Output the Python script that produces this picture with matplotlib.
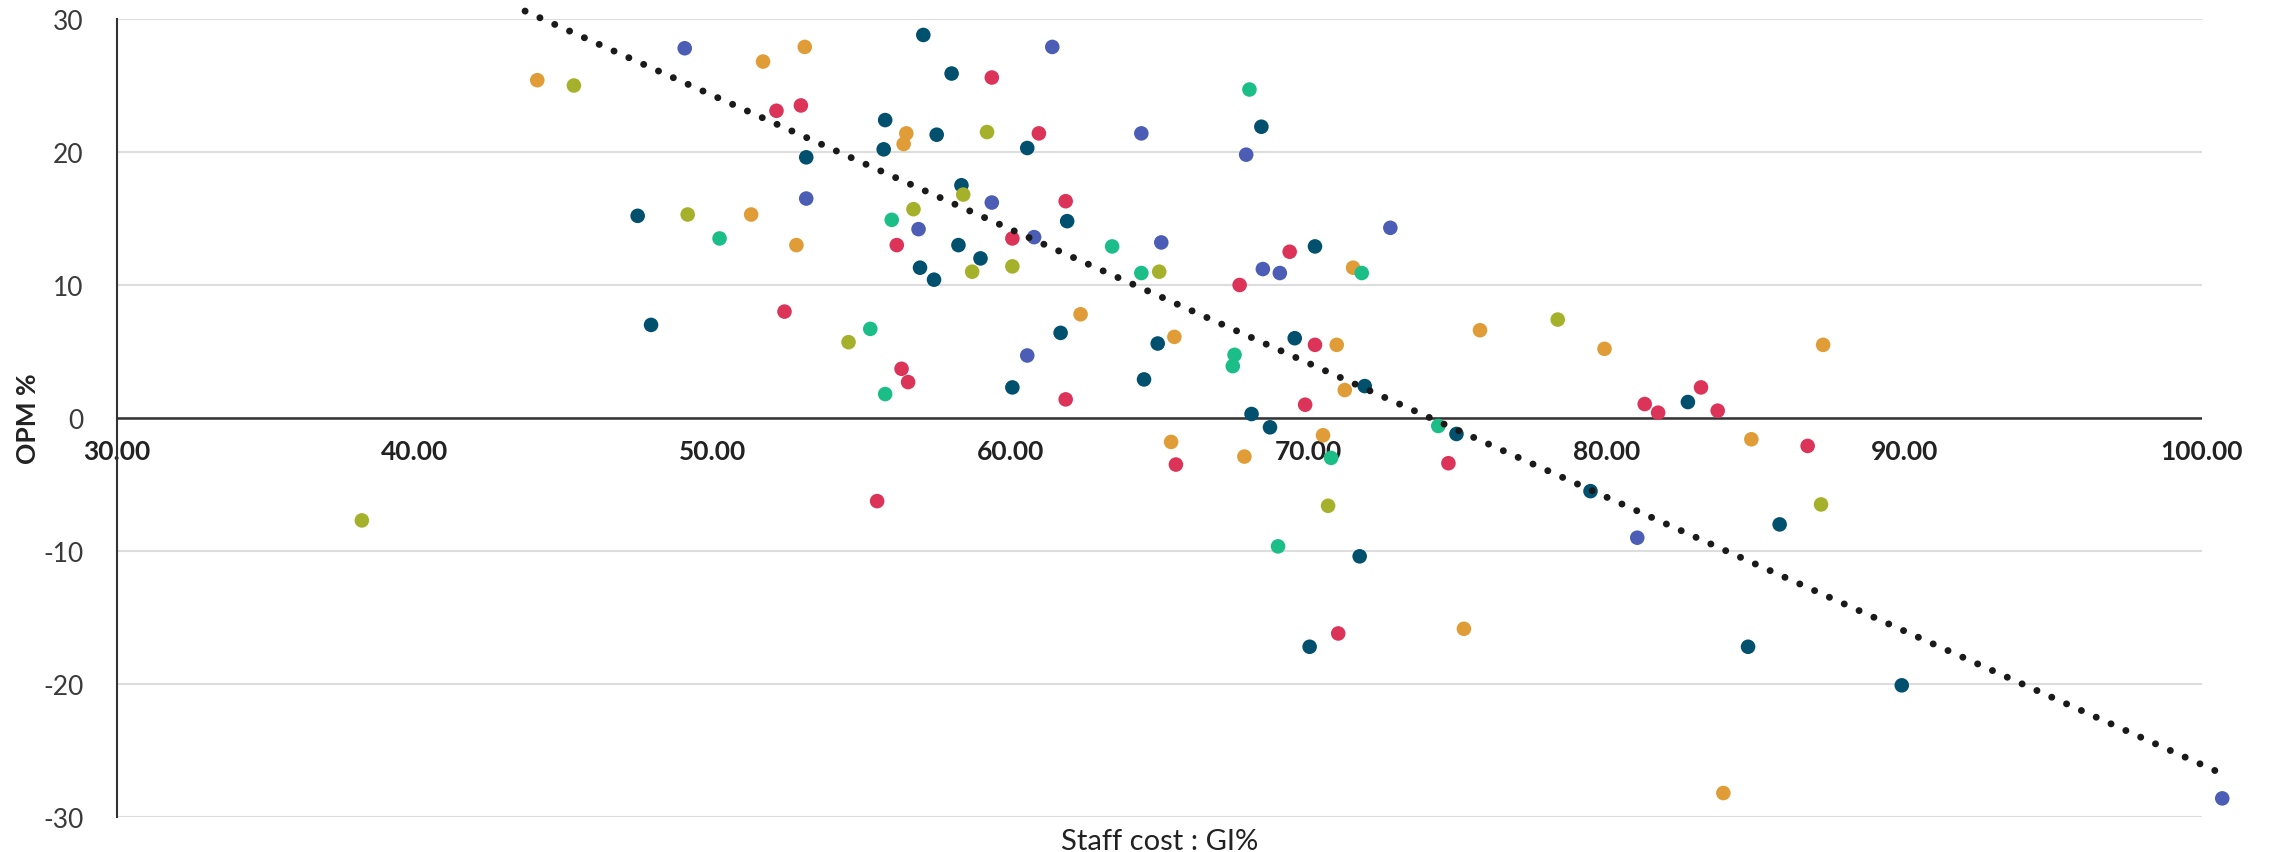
import matplotlib.pyplot as plt
import numpy as np

plt.rcParams["axes.unicode_minus"] = False

# Staff cost : GI% (x) vs OPM % (y), grouped by colour
teal_x = [57.07, 58.02, 55.79, 57.52, 55.74, 60.56, 53.14, 47.48, 58.35, 61.90, 58.25, 58.99,
          56.96, 57.43, 47.93, 61.68, 60.06, 64.48, 68.42, 70.22, 64.94, 69.54, 71.89, 68.09,
          68.71, 74.97, 82.74, 71.72, 70.04, 79.47, 85.82, 84.76, 89.92]
teal_y = [28.8, 25.9, 22.4, 21.3, 20.2, 20.3, 19.6, 15.2, 17.5, 14.8, 13.0, 12.0,
          11.3, 10.4, 7.0, 6.4, 2.3, 2.9, 21.9, 12.9, 5.6, 6.0, 2.4, 0.3,
          -0.7, -1.2, 1.2, -10.4, -17.2, -5.5, -8.0, -17.2, -20.1]

blue_x = [49.06, 61.40, 64.39, 53.14, 59.37, 56.91, 60.79, 60.56, 65.06, 67.91, 72.75, 68.47,
          69.04, 81.04, 100.68]
blue_y = [27.8, 27.9, 21.4, 16.5, 16.2, 14.2, 13.6, 4.7, 13.2, 19.8, 14.3, 11.2,
          10.9, -9.0, -28.6]

red_x = [59.37, 52.14, 52.96, 60.95, 61.85, 56.18, 60.06, 52.41, 56.34, 56.56, 61.85, 69.37,
         67.69, 70.22, 69.89, 81.29, 81.74, 83.18, 83.74, 86.76, 55.52, 65.55, 74.70, 71.00]
red_y = [25.6, 23.1, 23.5, 21.4, 16.3, 13.0, 13.5, 8.0, 3.7, 2.7, 1.4, 12.5,
         10.0, 5.5, 1.0, 1.05, 0.4, 2.3, 0.55, -2.1, -6.25, -3.5, -3.4, -16.2]

orange_x = [44.11, 51.69, 53.09, 56.50, 56.41, 51.29, 52.81, 62.35, 71.50, 65.50, 75.76, 79.94,
            70.95, 71.22, 65.39, 70.49, 87.28, 84.87, 67.85, 75.22, 83.93]
orange_y = [25.4, 26.8, 27.9, 21.4, 20.6, 15.3, 13.0, 7.8, 11.3, 6.1, 6.6, 5.2,
            5.5, 2.1, -1.8, -1.3, 5.5, -1.6, -2.9, -15.85, -28.2]

olive_x = [45.34, 59.21, 49.16, 58.41, 56.74, 60.06, 58.71, 54.56, 64.99, 78.37, 38.22, 70.66, 87.21]
olive_y = [25.0, 21.5, 15.3, 16.8, 15.7, 11.4, 11.0, 5.7, 11.0, 7.4, -7.7, -6.6, -6.5]

green_x = [50.23, 56.01, 63.41, 64.39, 55.29, 55.79, 68.02, 71.79, 67.52, 67.46, 74.36, 70.76, 68.98]
green_y = [13.5, 14.9, 12.9, 10.9, 6.7, 1.8, 24.7, 10.9, 4.75, 3.9, -0.6, -3.0, -9.65]

# trend line as shown (slope, intercept) and its visible x span
trend_coef = [-1.0065, 74.58]
trend_span = [43.7, 100.73]

groups = [
    (teal_x, teal_y, "#00506e"),
    (blue_x, blue_y, "#4b5db5"),
    (red_x, red_y, "#dc3358"),
    (orange_x, orange_y, "#e09c36"),
    (olive_x, olive_y, "#a5b12a"),
    (green_x, green_y, "#1cbe87"),
]

fig = plt.figure(figsize=(22.72, 8.53), dpi=100)
ax = fig.add_axes([117 / 2272, 1 - 818 / 853, (2202 - 117) / 2272, (818 - 20) / 853])

for xs, ys, c in groups:
    ax.scatter(xs, ys, s=110, color=c, edgecolors="none", zorder=3, clip_on=False)

tx = np.array(trend_span)
ax.plot(tx, np.polyval(trend_coef, tx), color="#1a1a1a", lw=5,
        linestyle=(0, (0.01, 2.33)), dash_capstyle="round", zorder=4, clip_on=False)

ax.set_xlim(30, 100)
ax.set_ylim(-30, 30)
ax.set_yticks(range(-30, 31, 10))
ax.set_xticks(range(30, 101, 10))
ax.set_xticklabels([f"{v:.2f}" for v in range(30, 101, 10)])

ax.grid(axis="y", color="#dddddd", lw=1.5, zorder=0)
ax.set_axisbelow(True)
for side in ["top", "right", "bottom"]:
    ax.spines[side].set_visible(False)
ax.spines["left"].set_color("#333333")
ax.spines["left"].set_linewidth(1.5)
ax.axhline(0, color="#333333", lw=1.8, zorder=2)

ax.tick_params(axis="y", length=0, pad=24, labelsize=19, labelcolor="#3a3a3a")
for t in ax.get_yticklabels():
    t.set_fontfamily("Lato")
ax.tick_params(axis="x", length=0, pad=0, labelsize=19, labelcolor="#222222")
for t in ax.get_xticklabels():
    t.set_fontfamily("Lato")
    t.set_fontweight("bold")
    t.set_transform(ax.get_xaxis_transform())
    t.set_y(0.474)  # place labels just below the y=0 line
    t.set_verticalalignment("top")

ax.set_xlabel("Staff cost : GI%", fontsize=21, family="Lato", color="#222222", labelpad=8)
ax.set_ylabel("OPM %", fontsize=19, family="Lato", fontweight="bold", color="#222222")
ax.yaxis.set_label_coords(-(117 - 40) / (2202 - 117), 0.5)

fig.savefig("out.png", dpi=100)
